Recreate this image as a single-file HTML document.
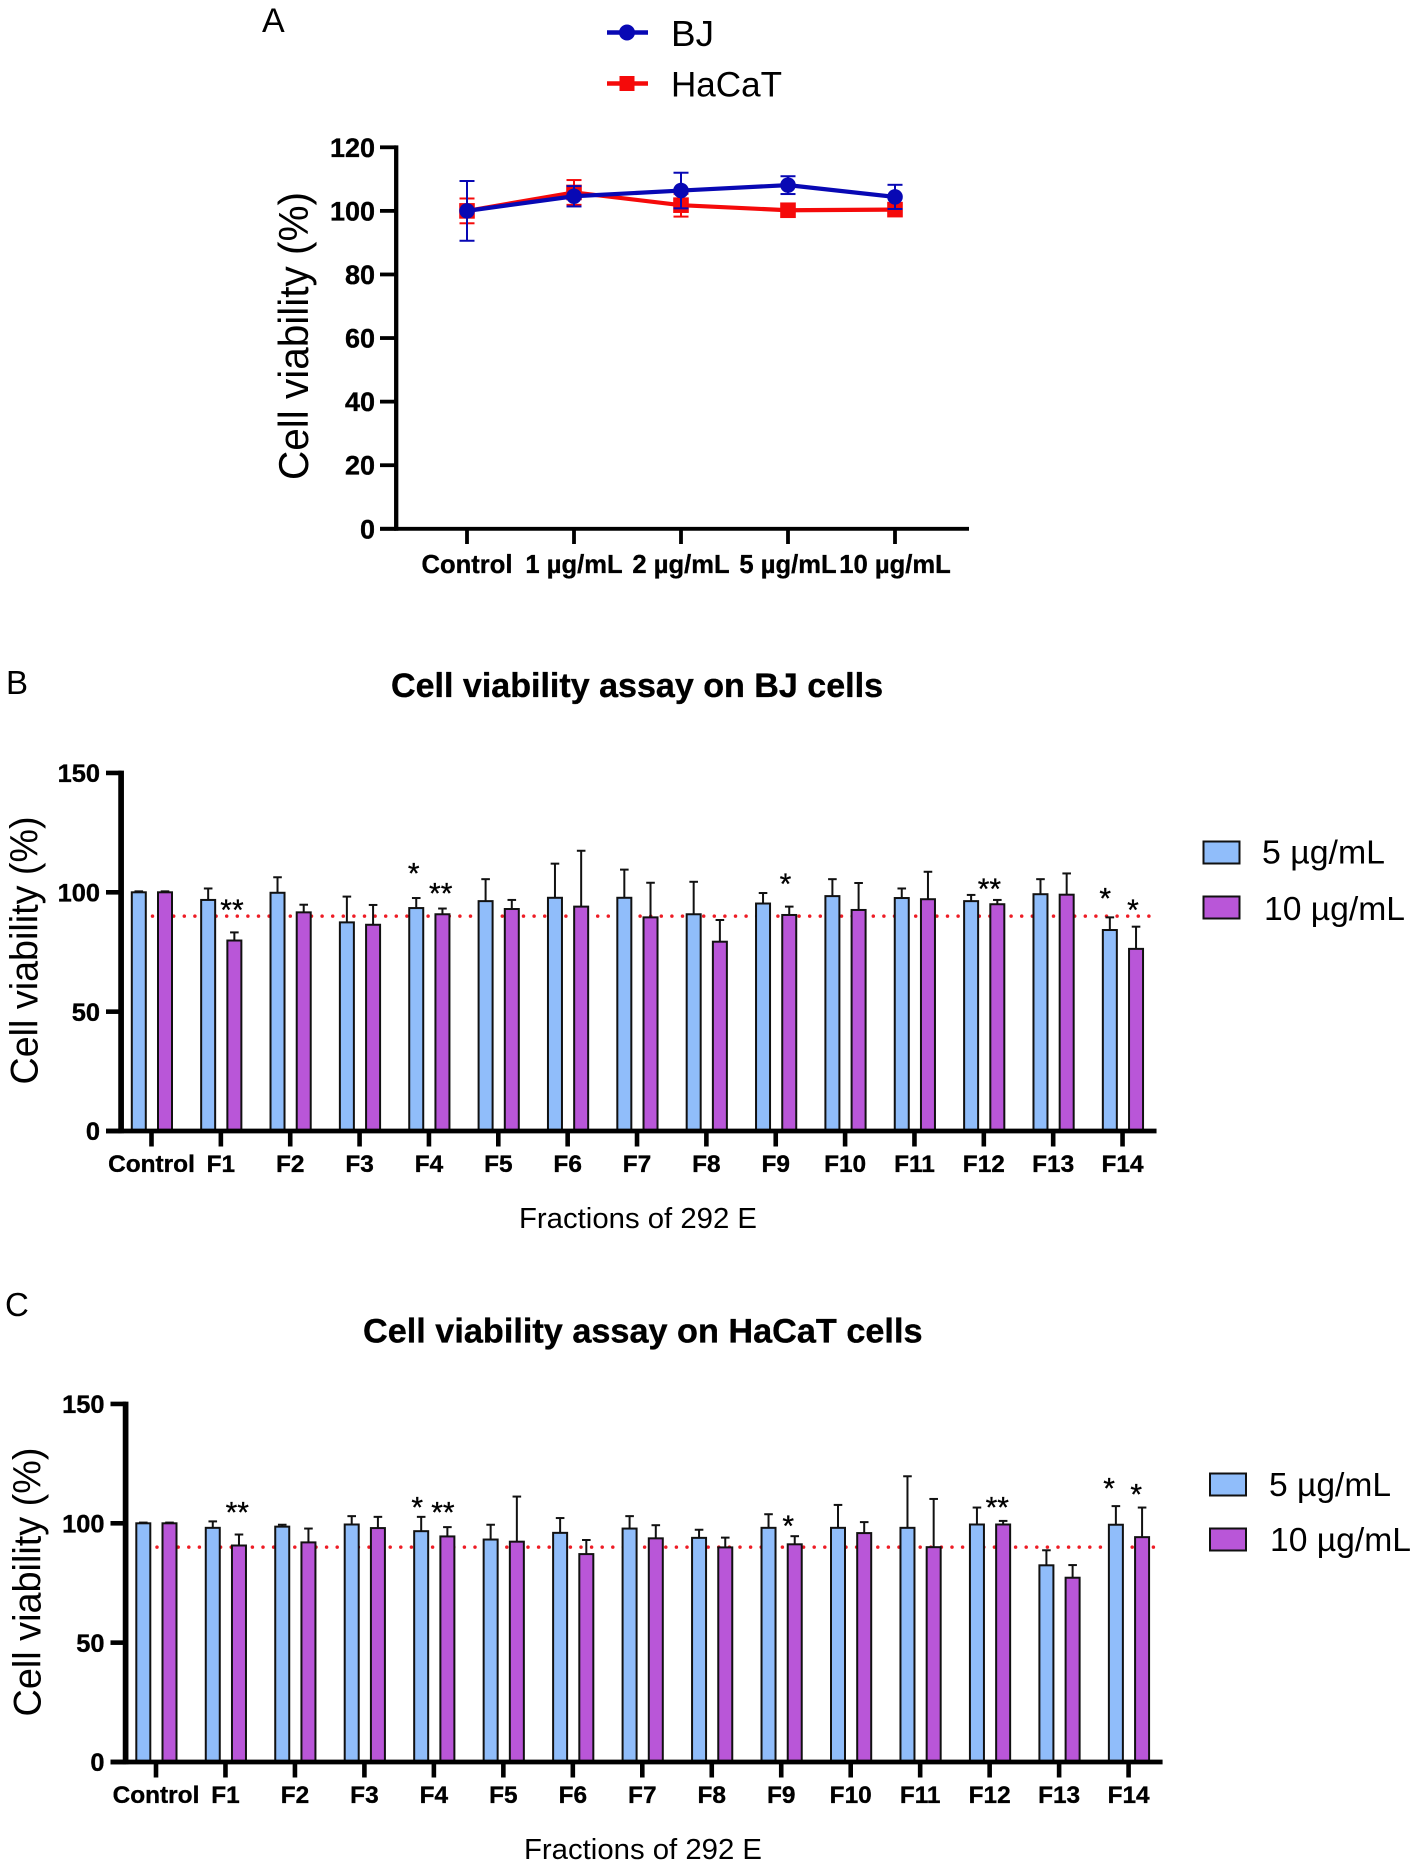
<!DOCTYPE html>
<html lang="en">
<head>
<meta charset="utf-8">
<title>Cell viability charts</title>
<style>
  html, body { margin: 0; padding: 0; background: #fff; }
  svg { display: block; font-family: "Liberation Sans", Arial, sans-serif; }
  text { fill: #000; }
  .b { font-weight: bold; stroke: #000; stroke-width: 0.35; }
</style>
</head>
<body>
<svg id="figure" width="1418" height="1866" viewBox="0 0 1418 1866" xmlns="http://www.w3.org/2000/svg">
  <rect width="1418" height="1866" fill="#fff"/>

  <!-- Panel A static text -->
  <text x="262" y="32" font-size="34">A</text>
  <g>
    <line x1="607" y1="32.5" x2="648" y2="32.5" stroke="#0808b4" stroke-width="4.5"/>
    <circle cx="627" cy="32.5" r="8" fill="#0808b4"/>
    <text x="671" y="46" font-size="36" textLength="43" lengthAdjust="spacingAndGlyphs">BJ</text>
  </g>
  <g>
    <line x1="607" y1="83.5" x2="648" y2="83.5" stroke="#f50a0a" stroke-width="4.5"/>
    <rect x="619.5" y="76" width="15" height="15" fill="#f50a0a"/>
    <text x="671" y="96.5" font-size="35" textLength="111" lengthAdjust="spacingAndGlyphs">HaCaT</text>
  </g>
  <text x="0" y="0" font-size="42" text-anchor="middle" textLength="288" lengthAdjust="spacingAndGlyphs" transform="translate(308 336) rotate(-90)">Cell viability (%)</text>
  <g id="chart-a"></g>

  <!-- Panel B static text -->
  <text x="6" y="694" font-size="33">B</text>
  <text class="b" x="391" y="697" font-size="34" textLength="492" lengthAdjust="spacingAndGlyphs">Cell viability assay on BJ cells</text>
  <text x="0" y="0" font-size="39" text-anchor="middle" textLength="268" lengthAdjust="spacingAndGlyphs" transform="translate(37.5 950.5) rotate(-90)">Cell viability (%)</text>
  <text x="519" y="1228" font-size="29" textLength="238" lengthAdjust="spacingAndGlyphs">Fractions of 292 E</text>
  <g>
    <rect x="1203.5" y="841.5" width="36" height="22" fill="#90bdfa" stroke="#111" stroke-width="2"/>
    <text x="1262" y="863.5" font-size="33" textLength="123" lengthAdjust="spacingAndGlyphs">5 µg/mL</text>
    <rect x="1203.5" y="896.5" width="36" height="22" fill="#b956d8" stroke="#111" stroke-width="2"/>
    <text x="1264" y="920" font-size="33" textLength="141" lengthAdjust="spacingAndGlyphs">10 µg/mL</text>
  </g>
  <g id="chart-b"></g>

  <!-- Panel C static text -->
  <text x="5" y="1316" font-size="33">C</text>
  <text class="b" x="363" y="1342.5" font-size="34" textLength="559.5" lengthAdjust="spacingAndGlyphs">Cell viability assay on HaCaT cells</text>
  <text x="0" y="0" font-size="39" text-anchor="middle" textLength="269" lengthAdjust="spacingAndGlyphs" transform="translate(40.5 1582) rotate(-90)">Cell viability (%)</text>
  <text x="524" y="1859" font-size="29" textLength="238" lengthAdjust="spacingAndGlyphs">Fractions of 292 E</text>
  <g>
    <rect x="1210" y="1473.5" width="36" height="22" fill="#90bdfa" stroke="#111" stroke-width="2"/>
    <text x="1269" y="1496" font-size="33" textLength="122" lengthAdjust="spacingAndGlyphs">5 µg/mL</text>
    <rect x="1210" y="1528.5" width="36" height="22" fill="#b956d8" stroke="#111" stroke-width="2"/>
    <text x="1270" y="1551" font-size="33" textLength="141" lengthAdjust="spacingAndGlyphs">10 µg/mL</text>
  </g>
  <g id="chart-c"></g>
</svg>

<script>
// ---------- Panel A data ----------
const doseLabels = ['Control', '1 µg/mL', '2 µg/mL', '5 µg/mL', '10 µg/mL'];
const lineTicks = [0, 20, 40, 60, 80, 100, 120];
const bjValues = [100, 104.6, 106.4, 108.1, 104.4];
const bjErrors = [9.4, 3.2, 5.6, 2.8, 3.8];
const hacatValues = [100, 105.8, 101.8, 100.2, 100.4];
const hacatErrors = [3.9, 3.9, 3.6, 0.3, 0.5];

// ---------- Panels B and C data ----------
const fractionLabels = ['Control', 'F1', 'F2', 'F3', 'F4', 'F5', 'F6', 'F7', 'F8', 'F9', 'F10', 'F11', 'F12', 'F13', 'F14'];
const barTicks = [0, 50, 100, 150];
const thresholdValue = 90;

const bjLowValues = [100, 96.8, 99.8, 87.4, 93.4, 96.3, 97.7, 97.7, 90.8, 95.3, 98.4, 97.6, 96.3, 99.2, 84.2];
const bjLowErrors = [0.4, 4.8, 6.5, 10.8, 4.2, 9.2, 14.3, 11.8, 13.6, 4.4, 7.1, 4, 2.6, 6.3, 5.3];
const bjHighValues = [100, 79.8, 91.6, 86.4, 90.8, 93, 94, 89.5, 79.3, 90.5, 92.6, 97.1, 95, 99, 76.3];
const bjHighErrors = [0.4, 3.4, 3.2, 8.3, 2.4, 3.8, 23.4, 14.5, 9.1, 3.5, 11.3, 11.5, 1.8, 8.9, 9.3];
const bjSigText = ['**', '*', '**', '*', '**', '*', '*'];
const bjSigCategory = [1.16, 3.78, 4.17, 9.14, 12.08, 13.75, 14.15];
const bjSigLevel = [94.4, 109.8, 101.4, 105.3, 103.2, 99.3, 94.4];

const hacatLowValues = [100, 98.1, 98.6, 99.5, 96.7, 93.2, 96, 97.8, 93.9, 98.1, 98.1, 98.1, 99.5, 82.4, 99.4];
const hacatLowErrors = [0.3, 2.7, 0.8, 3.5, 6, 6.2, 6.2, 5.2, 3.4, 5.7, 9.6, 21.6, 7.1, 6.3, 7.8];
const hacatHighValues = [100, 90.7, 92, 98, 94.5, 92.3, 87.1, 93.7, 89.9, 91.2, 95.9, 90, 99.5, 77.2, 94.2];
const hacatHighErrors = [0.3, 4.6, 5.8, 4.7, 3.9, 18.9, 5.9, 5.5, 4.1, 3.4, 4.6, 20.2, 1.5, 5.3, 12.4];
const hacatSigText = ['**', '*', '**', '*', '**', '*', '*'];
const hacatSigCategory = [1.17, 3.76, 4.13, 9.1, 12.11, 13.72, 14.11];
const hacatSigLevel = [106.4, 108.5, 106.4, 100.8, 108.6, 116.5, 114];

const SVG_NS = 'http://www.w3.org/2000/svg';

function make(parent, tag, attrs, content) {
  const el = document.createElementNS(SVG_NS, tag);
  for (const key in attrs) el.setAttribute(key, attrs[key]);
  if (content !== undefined) el.textContent = content;
  parent.appendChild(el);
  return el;
}

// ---------- Panel A ----------
function drawLineChart() {
  const root = document.getElementById('chart-a');
  const y = v => 528.8 - (v / 120) * 381.5;
  const x = i => 467 + i * 107;
  const axisColor = '#000';

  lineTicks.forEach(t => {
    const tick = make(root, 'line', { x1: 380, x2: 396, y1: y(t), y2: y(t), stroke: axisColor, 'stroke-width': 3.8 });
    
    
    const label = make(root, 'text', { class: 'b', x: 375, y: y(t) + 9.5, 'font-size': 27, 'text-anchor': 'end' }, String(t));
    
    
  });
  const yAxis = make(root, 'line', { x1: 396.2, x2: 396.2, y1: y(120) - 1.9, y2: y(0) + 1.9, stroke: axisColor, 'stroke-width': 4.3 });
  
  
  const xAxis = make(root, 'line', { x1: 380, x2: 969, y1: y(0), y2: y(0), stroke: axisColor, 'stroke-width': 3.8 });
  
  

  doseLabels.forEach((name, i) => {
    const tick = make(root, 'line', { x1: x(i), x2: x(i), y1: y(0), y2: 544, stroke: axisColor, 'stroke-width': 3.8 });
    
    
    const label = make(root, 'text', { class: 'b', x: x(i), y: 573, 'font-size': 25.6, 'text-anchor': 'middle' }, name);
    
    
  });

  function series(values, errors, color, key, square) {
    values.forEach((v, i) => {
      const top = v + errors[i];
      const bottom = v - errors[i];
      const stem = make(root, 'line', { x1: x(i), x2: x(i), y1: y(top), y2: y(bottom), stroke: color, 'stroke-width': 2 });
      
      
      const capTop = make(root, 'line', { x1: x(i) - 7.5, x2: x(i) + 7.5, y1: y(top), y2: y(top), stroke: color, 'stroke-width': 2 });
      
      
      const capBottom = make(root, 'line', { x1: x(i) - 7.5, x2: x(i) + 7.5, y1: y(bottom), y2: y(bottom), stroke: color, 'stroke-width': 2 });
      
      
    });
    const path = make(root, 'polyline', { points: values.map((v, i) => x(i) + ',' + y(v)).join(' '), fill: 'none', stroke: color, 'stroke-width': 4.2, 'stroke-linejoin': 'round' });
    
    
    values.forEach((v, i) => {
      const attrs = square
        ? { x: x(i) - 7.8, y: y(v) - 7.8, width: 15.6, height: 15.6, fill: color }
        : { cx: x(i), cy: y(v), r: 7.8, fill: color };
      const point = make(root, square ? 'rect' : 'circle', attrs);
      
      
    });
  }
  series(hacatValues, hacatErrors, '#f50a0a', 'hacat', true);
  series(bjValues, bjErrors, '#0808b4', 'bj', false);
}

// ---------- Panels B and C ----------
function drawBarChart(rootId, originX, stepX, axisY, unitY, lowValues, lowErrors, highValues, highErrors, sigText, sigCategory, sigLevel) {
  const root = document.getElementById(rootId);
  const x = c => originX + c * stepX;
  const y = v => axisY - v * unitY;
  const lastCategory = fractionLabels.length - 1;

  const threshold = make(root, 'line', { x1: x(0) + 1, x2: x(lastCategory) + 29, y1: y(thresholdValue), y2: y(thresholdValue), stroke: '#ee1c25', 'stroke-width': 3.5, 'stroke-linecap': 'round', 'stroke-dasharray': '0 10.6' });
  
  

  function bars(values, errors, offset, color, key) {
    values.forEach((v, i) => {
      const cx = x(i) + offset;
      const top = v + errors[i];
      const stem = make(root, 'line', { x1: cx, x2: cx, y1: y(top), y2: y(v), stroke: '#111', 'stroke-width': 2 });
      
      
      const cap = make(root, 'line', { x1: cx - 4.3, x2: cx + 4.3, y1: y(top), y2: y(top), stroke: '#111', 'stroke-width': 2 });
      
      
      const bar = make(root, 'rect', { x: cx - 7, y: y(v), width: 14, height: y(0) - y(v), fill: color, stroke: '#111', 'stroke-width': 2 });
      
      
    });
  }
  bars(lowValues, lowErrors, -12.7, '#90bdfa', 'dose-5-ug');
  bars(highValues, highErrors, 13.5, '#b956d8', 'dose-10-ug');

  barTicks.forEach(t => {
    const tick = make(root, 'line', { x1: x(0) - 45.5, x2: x(0) - 30, y1: y(t), y2: y(t), stroke: '#000', 'stroke-width': 4.6 });
    
    
    const label = make(root, 'text', { class: 'b', x: x(0) - 51.5, y: y(t) + 9.2, 'font-size': 25.4, 'text-anchor': 'end' }, String(t));
    
    
  });
  const yAxis = make(root, 'line', { x1: x(0) - 30.4, x2: x(0) - 30.4, y1: y(150) - 2.3, y2: y(0) + 2.3, stroke: '#000', 'stroke-width': 5.7 });
  
  
  const xAxis = make(root, 'line', { x1: x(0) - 45.5, x2: x(lastCategory) + 34, y1: y(0), y2: y(0), stroke: '#000', 'stroke-width': 4.8 });
  
  

  fractionLabels.forEach((name, i) => {
    const tick = make(root, 'line', { x1: x(i), x2: x(i), y1: y(0), y2: y(0) + 15.5, stroke: '#000', 'stroke-width': 4.6 });
    
    
    const label = make(root, 'text', { class: 'b', x: x(i), y: y(0) + 41, 'font-size': 24.4, 'text-anchor': 'middle' }, name);
    
    
  });

  sigText.forEach((mark, i) => {
    const star = make(root, 'text', { x: x(sigCategory[i]), y: y(sigLevel[i]) + 14.5, 'font-size': 30, 'text-anchor': 'middle', stroke: '#000', 'stroke-width': 0.3 }, mark);
    
    
  });
}

drawLineChart();
drawBarChart('chart-b', 151.5, 69.36, 1131, 2.387, bjLowValues, bjLowErrors, bjHighValues, bjHighErrors, bjSigText, bjSigCategory, bjSigLevel);
drawBarChart('chart-c', 156, 69.47, 1762, 2.387, hacatLowValues, hacatLowErrors, hacatHighValues, hacatHighErrors, hacatSigText, hacatSigCategory, hacatSigLevel);
</script>
</body>
</html>
